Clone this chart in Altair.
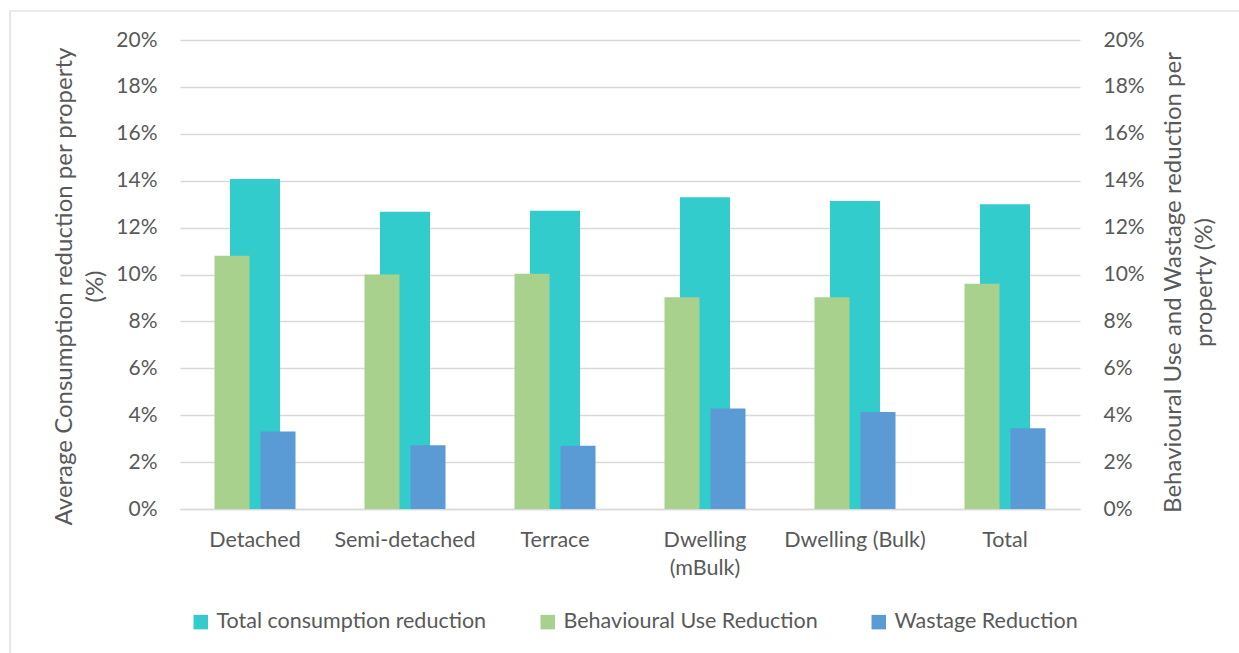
import altair as alt
import pandas as pd

# Average reduction per property, in percent
categories = ["Detached", "Semi-detached", "Terrace", "Dwelling (mBulk)", "Dwelling (Bulk)", "Total"]
total_reduction = [14.07, 12.68, 12.72, 13.29, 13.13, 13.00]
behavioural_reduction = [10.80, 10.00, 10.03, 9.03, 9.03, 9.61]
wastage_reduction = [3.30, 2.72, 2.70, 4.29, 4.14, 3.44]

series_names = ["Total consumption reduction", "Behavioural Use Reduction", "Wastage Reduction"]
series_colors = ["#33CCCC", "#A9D18E", "#5B9BD5"]
y_ticks = [0, 2, 4, 6, 8, 10, 12, 14, 16, 18, 20]

total_df = pd.DataFrame({"category": categories, "series": series_names[0], "value": total_reduction})
parts_df = pd.concat([
    pd.DataFrame({"category": categories, "series": series_names[1], "value": behavioural_reduction}),
    pd.DataFrame({"category": categories, "series": series_names[2], "value": wastage_reduction}),
], ignore_index=True)

FONT = "Lato"
TEXT = "#595959"
GRID = "#D9D9D9"
LABEL_SIZE = 21.5
TICK_SIZE = 21
TITLE_SIZE = 24

x_axis = alt.Axis(
    title=None, labelAngle=0, ticks=False, labelFontSize=LABEL_SIZE, labelColor=TEXT,
    labelPadding=20, domainColor=GRID, domainWidth=1.5, labelLineHeight=28,
    labelExpr="datum.label == 'Dwelling (mBulk)' ? ['Dwelling', '(mBulk)'] : datum.label",
)
x_enc = alt.X("category:N", sort=categories, axis=x_axis,
              scale=alt.Scale(paddingInner=0.46, paddingOuter=0.23))

color_enc = alt.Color(
    "series:N",
    scale=alt.Scale(domain=series_names, range=series_colors),
    legend=alt.Legend(
        title=None, orient="none", direction="horizontal", legendX=10, legendY=571,
        symbolType="square", symbolSize=210, symbolStrokeWidth=0, symbolOpacity=1,
        labelFontSize=LABEL_SIZE, labelColor=TEXT, labelOffset=5, labelLimit=0,
        columnPadding=50,
    ),
)

# Overall consumption reduction, left axis
total_bars = alt.Chart(total_df).mark_bar(size=50).encode(
    x=x_enc,
    y=alt.Y("value:Q", scale=alt.Scale(domain=[0, 20]),
            axis=alt.Axis(orient="left", values=y_ticks, labelExpr="datum.value + '%'",
                          title=["Average Consumption reduction per property", "(%)"],
                          titleFontSize=TITLE_SIZE, titleFontWeight="normal", titleColor=TEXT,
                          titleLineHeight=31, titlePadding=8, titleY=246,
                          labelFontSize=TICK_SIZE, labelColor=TEXT, labelPadding=23,
                          ticks=False, domain=False, grid=True, gridColor=GRID, gridWidth=1.5)),
    color=color_enc,
)

# Behavioural use and wastage components, right axis
part_bars = alt.Chart(parts_df).mark_bar().encode(
    x=x_enc,
    xOffset=alt.XOffset("series:N", sort=series_names[1:],
                        scale=alt.Scale(domain=series_names[1:], paddingInner=0.24)),
    y=alt.Y("value:Q", scale=alt.Scale(domain=[0, 20]),
            axis=alt.Axis(orient="right", values=y_ticks, labelExpr="datum.value + '%'",
                          title=["Behavioural Use and Wastage reduction per", "property (%)"],
                          titleAngle=270, titleFontSize=TITLE_SIZE, titleFontWeight="normal",
                          titleColor=TEXT, titleLineHeight=31, titlePadding=10, titleY=242,
                          labelFontSize=TICK_SIZE, labelColor=TEXT,
                          labelPadding=23, ticks=False, domain=False, grid=False)),
    color=color_enc,
)

# Thin frame around the chart area
frame = alt.Chart(pd.DataFrame({"f": [0]})).mark_rect(
    fill=None, stroke=GRID, strokeWidth=1.2
).encode(x=alt.value(-170), x2=alt.value(1100), y=alt.value(-29), y2=alt.value(640))

chart = alt.layer(frame, total_bars, part_bars).resolve_scale(y="independent").properties(
    width=900, height=469,
    autosize=alt.AutoSizeParams(type="none"),
    padding={"left": 180, "top": 40, "right": 159, "bottom": 144},
    background="white",
).configure(font=FONT).configure_view(stroke=None)

chart.save("out.html", embed_options={"renderer": "svg", "actions": False})
